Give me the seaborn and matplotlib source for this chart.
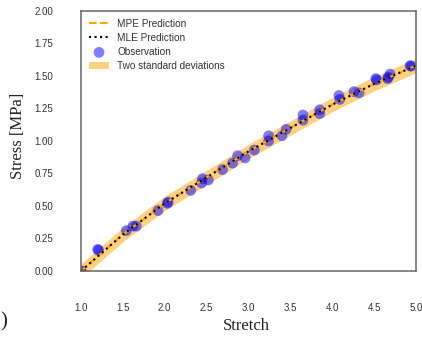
import numpy as np
import pandas as pd
import matplotlib
matplotlib.use("Agg")
import matplotlib.pyplot as plt
import seaborn as sns

# Prediction curve
stretch_grid = [1.0, 1.25, 1.5, 1.75, 2.0, 2.25, 2.5, 2.75, 3.0, 3.25, 3.5, 3.75,
                4.0, 4.25, 4.5, 4.75, 5.0]
mpe_pred = [0.0, 0.14, 0.28, 0.40, 0.52, 0.62, 0.72, 0.82, 0.92, 1.01, 1.10, 1.19,
            1.28, 1.36, 1.44, 1.51, 1.58]
mle_pred = [0.0, 0.14, 0.28, 0.40, 0.52, 0.62, 0.72, 0.82, 0.92, 1.01, 1.10, 1.19,
            1.28, 1.36, 1.44, 1.51, 1.58]
two_sd = [0.055, 0.055, 0.055, 0.055, 0.055, 0.055, 0.055, 0.055, 0.055, 0.055, 0.055,
          0.055, 0.055, 0.055, 0.055, 0.055, 0.055]

# Observations
obs_stretch = [1.0, 1.0, 1.20, 1.21, 1.54, 1.62, 1.66, 1.92, 2.03, 2.04, 2.31, 2.44,
               2.45, 2.52, 2.69, 2.81, 2.87, 2.96, 3.07, 3.24, 3.24, 3.40, 3.45,
               3.65, 3.65, 3.85, 3.85, 4.08, 4.09, 4.26, 4.32, 4.52, 4.53, 4.66,
               4.67, 4.69, 4.93, 4.94]
obs_stress = [0.0, 0.0, 0.166, 0.16, 0.31, 0.345, 0.345, 0.465, 0.52, 0.53, 0.62, 0.677,
              0.71, 0.70, 0.78, 0.83, 0.887, 0.87, 0.93, 1.04, 1.00, 1.04, 1.09,
              1.20, 1.16, 1.24, 1.21, 1.35, 1.32, 1.38, 1.37, 1.48, 1.47, 1.48,
              1.49, 1.515, 1.58, 1.575]

xticks = [1.0, 1.5, 2.0, 2.5, 3.0, 3.5, 4.0, 4.5, 5.0]
yticks = [0.0, 0.25, 0.5, 0.75, 1.0, 1.25, 1.5, 1.75, 2.0]

sns.set_theme(style="white")
plt.rcParams['font.family'] = ['Liberation Sans', 'DejaVu Sans']

fig = plt.figure(figsize=(4.22, 3.39), dpi=100)
ax = fig.add_axes([81/422, 1-271/339, (416-81)/422, (271-11)/339])

sg = np.array(stretch_grid)
mle = np.array(mle_pred)
sd = np.array(two_sd)

ax.fill_between(sg, mle - sd, mle + sd, color='orange', alpha=0.5, linewidth=0,
                label='Two standard deviations')
sns.lineplot(x=stretch_grid, y=mpe_pred, ax=ax, color='orange', linestyle='--',
             linewidth=1.5, label='MPE Prediction')
sns.lineplot(x=stretch_grid, y=mle_pred, ax=ax, color='black', linestyle=':',
             linewidth=1.5, label='MLE Prediction')
sns.scatterplot(x=obs_stretch, y=obs_stress, ax=ax, color='blue', alpha=0.5,
                s=60, edgecolor='none', label='Observation')

ax.set_xlim(1.0, 5.0)
ax.set_ylim(0.0, 2.0)
ax.set_xticks(xticks)
ax.set_yticks(yticks)
ax.set_xticklabels([f"{v:.1f}" for v in xticks])
ax.set_yticklabels([f"{v:.2f}" for v in yticks])
ax.tick_params(axis='x', labelsize=7, pad=23, colors='#333333', length=0)
ax.tick_params(axis='y', labelsize=7, pad=20, colors='#333333', length=0)

for sp in ax.spines.values():
    sp.set_color('#666666')
    sp.set_linewidth(1.1)

ax.set_xlabel('Stretch', family=['Liberation Serif'], fontsize=12, color='#222222')
ax.set_ylabel('Stress [MPa]', family=['Liberation Serif'], fontsize=12, color='#222222')
ax.xaxis.set_label_coords(0.4925, -0.182)
ax.yaxis.set_label_coords(-0.165, 0.52)

h, l = ax.get_legend_handles_labels()
order = ['MPE Prediction', 'MLE Prediction', 'Observation', 'Two standard deviations']
hh = [h[l.index(o)] for o in order]
leg = ax.legend(hh, order, loc='upper left', frameon=False, fontsize=7.2,
                borderaxespad=0.4, handlelength=2.0, labelspacing=0.4)
for t in leg.get_texts():
    t.set_color('#333333')

fig.text(0.5/422, 1-322/339, ')', family=['Liberation Serif'], fontsize=15,
         ha='left', va='center', color='#222222')

fig.savefig('out.png', dpi=100)
